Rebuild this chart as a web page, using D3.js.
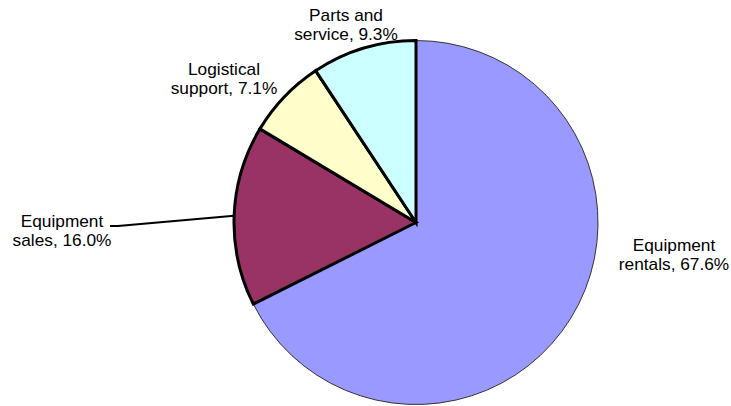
<!DOCTYPE html>
<html>
<head>
<meta charset="utf-8">
<script src="https://cdn.jsdelivr.net/npm/d3@7"></script>
<style>
  html, body { margin: 0; padding: 0; background: #fff; }
  svg { display: block; }
  text { font-family: "Liberation Sans", Arial, sans-serif; font-size: 16px; fill: #000; }
</style>
</head>
<body>
<svg id="chart" width="731" height="406"></svg>
<script>
// Revenue mix by segment (percent of total)
const categories = ["Equipment rentals", "Equipment sales", "Logistical support", "Parts and service"];
const shares = [67.6, 16.0, 7.1, 9.3];
const labelLines = [
  ["Equipment", "rentals, 67.6%"],
  ["Equipment", "sales, 16.0%"],
  ["Logistical", "support, 7.1%"],
  ["Parts and", "service, 9.3%"]
];
const fills = ["#9999FF", "#993366", "#FFFFCC", "#CCFFFF"];

const width = 731, height = 406;
const cx = 416, cy = 222.5, radius = 182;

// Label anchor points (center of the text block, first baseline)
const labelAnchors = [
  { x: 674, y: 251 },
  { x: 62, y: 227 },
  { x: 224, y: 75 },
  { x: 346, y: 21 }
];
const lineGap = 19.5;

const svg = d3.select("#chart");
const g = svg.append("g").attr("transform", `translate(${cx},${cy})`);

const pie = d3.pie().sort(null).value(d => d.value).startAngle(0).endAngle(2 * Math.PI);
const arcs = pie(categories.map((c, i) => ({ name: c, value: shares[i], idx: i })));
const arc = d3.arc().innerRadius(0).outerRadius(radius);

// Large slice drawn with a hairline outline, the rest outlined heavily on top
const order = arcs.slice().sort((a, b) => (a.data.idx === 0 ? -1 : 0) - (b.data.idx === 0 ? -1 : 0));
g.selectAll("path.slice")
  .data(order)
  .join("path")
  .attr("class", "slice")
  .attr("d", arc)
  .attr("fill", d => fills[d.data.idx])
  .attr("stroke", d => d.data.idx === 0 ? "#333" : "#000")
  .attr("stroke-width", d => d.data.idx === 0 ? 1 : 3)
  .attr("stroke-linejoin", "miter");

// Leader line for the sales slice
const salesArc = arcs[1];
const mid = (salesArc.startAngle + salesArc.endAngle) / 2;
const edge = [radius * Math.sin(mid), -radius * Math.cos(mid)];
const lineData = [
  [edge[0], edge[1]],
  [118 - cx, 226 - cy],
  [110 - cx, 226 - cy]
];
g.append("path")
  .attr("d", d3.line()(lineData))
  .attr("fill", "none")
  .attr("stroke", "#000")
  .attr("stroke-width", 2);

// Labels
const labels = svg.selectAll("g.label")
  .data(labelLines)
  .join("g")
  .attr("class", "label")
  .attr("transform", (d, i) => `translate(${labelAnchors[i].x},${labelAnchors[i].y}) scale(1.08,1)`);

labels.each(function(lines) {
  const t = d3.select(this).append("text").attr("text-anchor", "middle");
  lines.forEach((ln, j) => {
    t.append("tspan").attr("x", 0).attr("y", j * lineGap).text(ln);
  });
});
</script>
</body>
</html>
